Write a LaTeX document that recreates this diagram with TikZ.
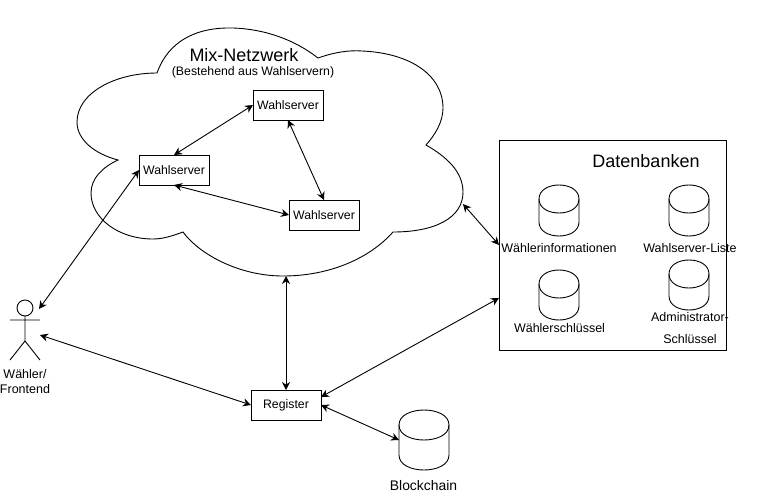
\documentclass[tikz,border=0pt]{standalone}
\usepackage{fontspec}
\setmainfont{Liberation Sans}
\usetikzlibrary{arrows.meta}

\tikzset{
  linie/.style={line width=0.9pt,{Stealth[length=8pt,width=8pt]}-{Stealth[length=8pt,width=8pt]}},
  kasten/.style={draw,line width=0.9pt,minimum width=70pt,minimum height=30pt,inner sep=0pt,outer sep=0pt,font=\fontsize{12.3}{14}\selectfont},
  schrift/.style={inner sep=0pt,outer sep=0pt,align=center,font=\fontsize{12.5}{15}\selectfont},
  titel/.style={inner sep=0pt,outer sep=0pt,font=\fontsize{18}{21}\selectfont}
}
% name, left, top, width, height, cap
\newcommand{\speicher}[6]{
  \node[minimum width=#4pt,minimum height=#5pt,inner sep=0pt,outer sep=0pt] (#1) at (#2+#4/2,#3+#5/2) {};
  \draw[line width=0.9pt] (#2,#3+#6) .. controls (#2,#3-#6/3) and (#2+#4,#3-#6/3) .. (#2+#4,#3+#6)
    -- (#2+#4,#3+#5-#6) .. controls (#2+#4,#3+#5+#6/3) and (#2,#3+#5+#6/3) .. (#2,#3+#5-#6) -- cycle;
  \draw[line width=0.9pt] (#2,#3+#6) .. controls (#2,#3+#6*7/3) and (#2+#4,#3+#6*7/3) .. (#2+#4,#3+#6);
}

\begin{document}
\begin{tikzpicture}[x=1pt,y=-1pt]
\useasboundingbox (0,0) rectangle (760,501);
% cloud
\draw[line width=0.9pt] (157,73) .. controls (168,42) and (195,27) .. (233,28) .. controls (265,29) and (295,40) .. (318,58)
  .. controls (335,52) and (350,50) .. (362,51) .. controls (410,53) and (443,75) .. (443,108) .. controls (443,122) and (435,135) .. (426,145)
  .. controls (447,157) and (463,172) .. (463,192) .. controls (463,218) and (435,232) .. (393,232)
  .. controls (370,258) and (330,276) .. (283,276) .. controls (240,276) and (200,255) .. (183,232)
  .. controls (172,236) and (163,239) .. (153,239) .. controls (118,239) and (91,218) .. (91,193) .. controls (91,178) and (103,167) .. (118,160)
  .. controls (95,154) and (77,140) .. (77,122) .. controls (77,93) and (115,73) .. (157,73) -- cycle;
\coordinate (cloudRight) at (463,204);
\coordinate (cloudBottom) at (286,276);
\node[titel] (mixTitel) at (244,55) {Mix-Netzwerk};
\node[schrift,font=\fontsize{12.3}{15}\selectfont] (mixText) at (253,72) {(Bestehend aus Wahlservern)};

\node[kasten] (server1) at (288,105) {Wahlserver};
\node[kasten] (server2) at (174,170) {Wahlserver};
\node[kasten] (server3) at (324,215) {Wahlserver};
\node[kasten] (register) at (286,405) {Register};

% databases
\node[draw,line width=0.9pt,minimum width=227pt,minimum height=210pt,inner sep=0pt,outer sep=0pt] (db) at (612.5,245) {};
\node[titel] (dbTitel) at (646,161) {Datenbanken};
\speicher{info}{539}{185}{40}{51}{14}
\speicher{liste}{669}{185}{40}{51}{14}
\speicher{schluessel}{539}{270}{40}{50}{14}
\speicher{admin}{669}{260}{40}{50}{14}
\node[schrift] (infoText) at (559,248) {Wählerinformationen};
\node[schrift] (listeText) at (690,248) {Wahlserver-Liste};
\node[schrift] (schluesselText) at (559.5,328) {Wählerschlüssel};
\node[schrift] (adminText1) at (690,317) {Administrator-};
\node[schrift] (adminText2) at (690,339) {Schlüssel};

\speicher{chain}{399}{410}{50}{60}{15}
\node[schrift,font=\fontsize{13.9}{16}\selectfont] (chainText) at (423.5,486) {Blockchain};

% actor
\node[minimum width=30pt,minimum height=60pt,inner sep=0pt,outer sep=0pt] (waehler) at (25,330) {};
\draw[line width=0.9pt] (25,308) circle (8);
\draw[line width=0.9pt] (25,316) -- (25,341) (10,320) -- (40,320) (10,360) -- (25,341) -- (40,360);
\node[schrift] (waehlerText) at (25,381.5) {Wähler/\\Frontend};
\coordinate (waehlerOben) at (39,309);
\coordinate (waehlerMitte) at (40,335);
\coordinate (registerOben) at (321,397);
\coordinate (dbUnten) at (499,298);

\draw[linie] (server2.north) -- (server1.west);
\draw[linie] (server1.south) -- (server3.north);
\draw[linie] (server2.south) -- (server3.west);
\draw[linie] (waehlerOben) -- (server2.west);
\draw[linie] (waehlerMitte) -- (register.west);
\draw[linie] (cloudBottom) -- (register.north);
\draw[linie] (cloudRight) -- (db.west);
\draw[linie] (registerOben) -- (dbUnten);
\draw[linie] (register.east) -- (chain.west);
\end{tikzpicture}
\end{document}
